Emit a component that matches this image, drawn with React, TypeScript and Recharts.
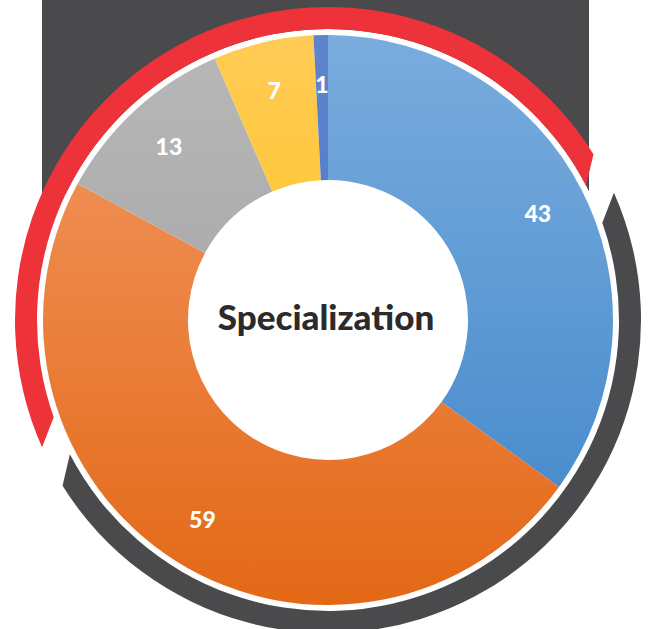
import { Cell, Label, Pie, PieChart } from "recharts";

const categories = ["Cat A", "Cat B", "Cat C", "Cat D", "Cat E"];
const counts = [43, 59, 13, 7, 1];
const centerTitle = "Specialization";

const gradients = [
  { id: "spec-blue", top: "#7AACDE", bottom: "#3E85C8" },
  { id: "spec-orange", top: "#F39A66", bottom: "#E36816" },
  { id: "spec-gray", top: "#B8B8B8", bottom: "#9A9A9A" },
  { id: "spec-yellow", top: "#FFCB55", bottom: "#FFC000" },
  { id: "spec-dblue", top: "#5F84CC", bottom: "#4472C4" },
];

const sliceData = categories.map((name, i) => ({ name, value: counts[i] }));
const ringData = [{ name: "ring", value: 1 }];

const CX = 328;
const CY = 320;
const RADIAN = Math.PI / 180;
const CUT_SKEW = 4.5;

const FONT = "Lato, 'Open Sans', sans-serif";

function pt(cx: number, cy: number, r: number, a: number) {
  return [cx + r * Math.cos(a * RADIAN), cy - r * Math.sin(a * RADIAN)];
}

// ring segment with slanted ends (inner edge lags the outer edge)
function SlantArc(props: any) {
  const { cx, cy, innerRadius, outerRadius, startAngle, endAngle, fill } = props;
  const [osx, osy] = pt(cx, cy, outerRadius, startAngle);
  const [oex, oey] = pt(cx, cy, outerRadius, endAngle);
  const [iex, iey] = pt(cx, cy, innerRadius, endAngle - CUT_SKEW);
  const [isx, isy] = pt(cx, cy, innerRadius, startAngle - CUT_SKEW);
  const large = Math.abs(startAngle - endAngle) > 180 ? 1 : 0;
  const d = [
    `M${osx},${osy}`,
    `A${outerRadius},${outerRadius} 0 ${large} 1 ${oex},${oey}`,
    `L${iex},${iey}`,
    `A${innerRadius},${innerRadius} 0 ${large} 0 ${isx},${isy}`,
    "Z",
  ].join(" ");
  return <path d={d} fill={fill} stroke="none" />;
}

function SliceLabel(props: any) {
  const { cx, cy, midAngle, innerRadius, outerRadius, value } = props;
  const r = innerRadius + (outerRadius - innerRadius) * 0.66;
  const x = cx + r * Math.cos(-midAngle * RADIAN);
  const y = cy + r * Math.sin(-midAngle * RADIAN);
  return (
    <text
      x={x}
      y={y}
      fill="#ffffff"
      textAnchor="middle"
      dominantBaseline="central"
      style={{ fontFamily: FONT, fontWeight: 900, fontSize: 23 }}
    >
      {value}
    </text>
  );
}

export default function App() {
  return (
    <div style={{ position: "absolute", left: 0, top: 0, width: 652, height: 629, background: "#fff", overflow: "hidden" }}>
      <div style={{ position: "absolute", left: 42, top: 0, width: 547, height: 193, background: "#4A4A4C" }} />
      <div style={{ position: "absolute", left: 0, top: 0 }}>
        <PieChart width={652} height={629} margin={{ top: 0, right: 0, bottom: 0, left: 0 }}>
          <defs>
            {gradients.map((g) => (
              <linearGradient key={g.id} id={g.id} gradientUnits="userSpaceOnUse" x1="0" y1={CY - 285} x2="0" y2={CY + 285}>
                <stop offset="0%" stopColor={g.top} />
                <stop offset="100%" stopColor={g.bottom} />
              </linearGradient>
            ))}
          </defs>
          {/* white backing disk covering the dark panel */}
          <Pie
            data={ringData}
            dataKey="value"
            cx={CX}
            cy={CY}
            innerRadius={0}
            outerRadius={291}
            fill="#ffffff"
            stroke="none"
            isAnimationActive={false}
          />
          {/* red arc upper left */}
          <Pie
            data={ringData}
            dataKey="value"
            cx={CX}
            cy={CY}
            innerRadius={291}
            outerRadius={313}
            startAngle={204}
            endAngle={32}
            fill="#EE3239"
            stroke="none"
            shape={SlantArc}
            isAnimationActive={false}
          />
          {/* dark arc lower right */}
          <Pie
            data={ringData}
            dataKey="value"
            cx={CX}
            cy={CY}
            innerRadius={291}
            outerRadius={313}
            startAngle={24}
            endAngle={-148}
            fill="#4A4A4C"
            stroke="none"
            shape={SlantArc}
            isAnimationActive={false}
          />
          <Pie
            data={sliceData}
            dataKey="value"
            nameKey="name"
            cx={CX}
            cy={CY}
            innerRadius={140}
            outerRadius={285}
            startAngle={90}
            endAngle={-270}
            stroke="none"
            labelLine={false}
            label={SliceLabel}
            isAnimationActive={false}
          >
            {sliceData.map((d, i) => (
              <Cell key={d.name} fill={`url(#${gradients[i].id})`} />
            ))}
            <Label
              value={centerTitle}
              position="center"
              fill="#2B2B2B"
              dy={3}
              style={{ fontFamily: FONT, fontWeight: 900, fontSize: 35 }}
            />
          </Pie>
        </PieChart>
      </div>
    </div>
  );
}
